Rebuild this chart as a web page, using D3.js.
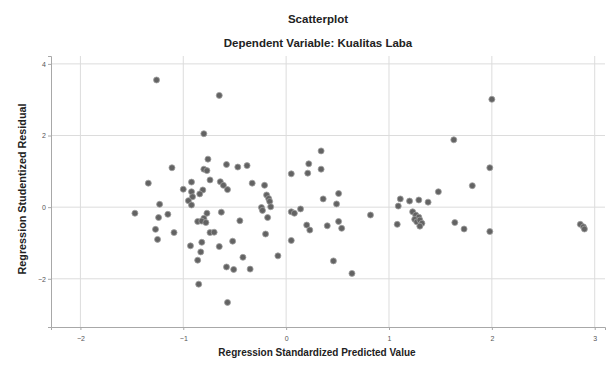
<!DOCTYPE html>
<html>
<head>
<meta charset="utf-8">
<script src="https://cdn.jsdelivr.net/npm/d3@7"></script>
<style>
  body { margin: 0; background: #fff; }
  svg { display: block; font-family: "Liberation Sans", Arial, sans-serif; }
</style>
</head>
<body>
<div id="chart"></div>
<script>
// predicted values (x) and studentized residuals (y)
const predicted = [
  -1.26, -0.65, -0.80, -0.76, -1.11, -0.80, -0.77, -0.58, -0.47, -0.38,
  -1.34, -0.92, -0.74, -0.64, -0.61, -0.57, -0.33, -1.00, -0.81, -0.92,
  -0.91, -0.84, -0.95, -0.92, -1.23, -1.47, -1.24, -1.15, -0.77, -0.80,
  -0.86, -0.82, -0.78, -0.63, -0.45, -1.27, -1.09, -1.25, -0.74, -0.70,
  -0.52, -0.93, -0.82, -0.65, -0.83, -0.86, -0.42, -0.58, -0.51, -0.35,
  -0.85, -0.57, 0.34, 0.22, 0.34, 0.21, 0.05, -0.21, -0.19, -0.17,
  -0.16, -0.24, -0.23, -0.15, 0.36, 0.51, 0.49, 0.05, 0.08, 0.14,
  -0.18, 0.20, 0.23, 0.40, 0.51, 0.54, -0.20, 0.05, -0.08, 0.46,
  0.64, 0.82, 1.11, 1.20, 1.29, 1.38, 1.48, 1.09, 1.23, 1.26,
  1.29, 1.25, 1.27, 1.30, 1.32, 1.30, 1.08, 2.00, 1.63, 1.98,
  1.81, 1.64, 1.73, 1.98, 2.86, 2.89, 2.90
];
const residual = [
  3.55, 3.12, 2.05, 1.34, 1.10, 1.06, 1.02, 1.19, 1.12, 1.16,
  0.67, 0.70, 0.76, 0.71, 0.61, 0.49, 0.67, 0.50, 0.48, 0.43,
  0.29, 0.37, 0.18, 0.06, 0.08, -0.17, -0.29, -0.20, -0.17, -0.31,
  -0.40, -0.39, -0.43, -0.14, -0.38, -0.62, -0.71, -0.90, -0.71, -0.70,
  -0.95, -1.08, -0.98, -1.10, -1.25, -1.48, -1.40, -1.67, -1.74, -1.73,
  -2.15, -2.66, 1.57, 1.21, 1.06, 0.95, 0.93, 0.61, 0.34, 0.24,
  0.16, -0.01, -0.09, 0.01, 0.23, 0.38, 0.09, -0.13, -0.17, -0.05,
  -0.29, -0.50, -0.64, -0.52, -0.40, -0.59, -0.75, -0.93, -1.36, -1.50,
  -1.85, -0.22, 0.23, 0.17, 0.20, 0.14, 0.43, 0.03, -0.13, -0.22,
  -0.28, -0.34, -0.41, -0.36, -0.45, -0.53, -0.48, 3.01, 1.88, 1.10,
  0.60, -0.43, -0.61, -0.68, -0.48, -0.55, -0.61
];
const xTicks = [-2, -1, 0, 1, 2, 3];
const yTicks = [-2, 0, 2, 4];

const title = 'Scatterplot';
const subtitle = 'Dependent Variable: Kualitas Laba';
const xLabel = 'Regression Standardized Predicted Value';
const yLabel = 'Regression Studentized Residual';

const width = 616, height = 365;
const margin = { top: 56, right: 11, bottom: 38, left: 51 };

const svg = d3.select('#chart').append('svg')
  .attr('width', width)
  .attr('height', height);

const x = d3.scaleLinear()
  .domain([-2.286, 3.1])
  .range([margin.left, width - margin.right]);

const y = d3.scaleLinear()
  .domain([-3.346, 4.22])
  .range([height - margin.bottom, margin.top]);

// gridlines
svg.append('g')
  .selectAll('line')
  .data(xTicks)
  .join('line')
  .attr('x1', d => x(d)).attr('x2', d => x(d))
  .attr('y1', margin.top).attr('y2', height - margin.bottom)
  .attr('stroke', '#dcdcdc').attr('stroke-width', 1);

svg.append('g')
  .selectAll('line')
  .data(yTicks)
  .join('line')
  .attr('x1', margin.left).attr('x2', width - margin.right)
  .attr('y1', d => y(d)).attr('y2', d => y(d))
  .attr('stroke', '#dcdcdc').attr('stroke-width', 1);

// axes
const xAxis = d3.axisBottom(x).tickValues(xTicks).tickSize(3).tickFormat(d3.format('d'));
const yAxis = d3.axisLeft(y).tickValues(yTicks).tickSize(3).tickFormat(d3.format('d'));

const xAxisG = svg.append('g')
  .attr('transform', `translate(0, ${height - margin.bottom})`)
  .call(xAxis);
const yAxisG = svg.append('g')
  .attr('transform', `translate(${margin.left}, 0)`)
  .call(yAxis);

[xAxisG, yAxisG].forEach(g => {
  g.select('.domain').attr('stroke', '#a8a8a8');
  g.selectAll('.tick line').attr('stroke', '#a8a8a8');
  g.selectAll('.tick text')
    .attr('fill', '#555')
    .style('font-size', '7px')
    .style('font-family', '"Liberation Sans", Arial, sans-serif');
});
xAxisG.selectAll('.tick text').attr('dy', '1.1em');
yAxisG.selectAll('.tick text').attr('x', -5);

// points
svg.append('g')
  .selectAll('circle')
  .data(predicted.map((p, i) => [p, residual[i]]))
  .join('circle')
  .attr('cx', d => x(d[0]))
  .attr('cy', d => y(d[1]))
  .attr('r', 3)
  .attr('fill', '#636363')
  .attr('stroke', '#a0a0a0')
  .attr('stroke-width', 0.8);

// titles
svg.append('text')
  .attr('x', 318).attr('y', 23)
  .attr('text-anchor', 'middle')
  .style('font-size', '11.5px').style('font-weight', 'bold')
  .attr('fill', '#222')
  .text(title);

svg.append('text')
  .attr('x', 318).attr('y', 47)
  .attr('text-anchor', 'middle')
  .style('font-size', '11.5px').style('font-weight', 'bold')
  .attr('fill', '#222')
  .text(subtitle);

// axis labels
svg.append('text')
  .attr('x', 317).attr('y', 356)
  .attr('text-anchor', 'middle')
  .style('font-size', '10px').style('font-weight', 'bold')
  .attr('fill', '#222')
  .text(xLabel);

svg.append('text')
  .attr('transform', 'rotate(-90)')
  .attr('x', -189).attr('y', 26)
  .attr('text-anchor', 'middle')
  .style('font-size', '10.8px').style('font-weight', 'bold')
  .attr('fill', '#222')
  .text(yLabel);
</script>
</body>
</html>
